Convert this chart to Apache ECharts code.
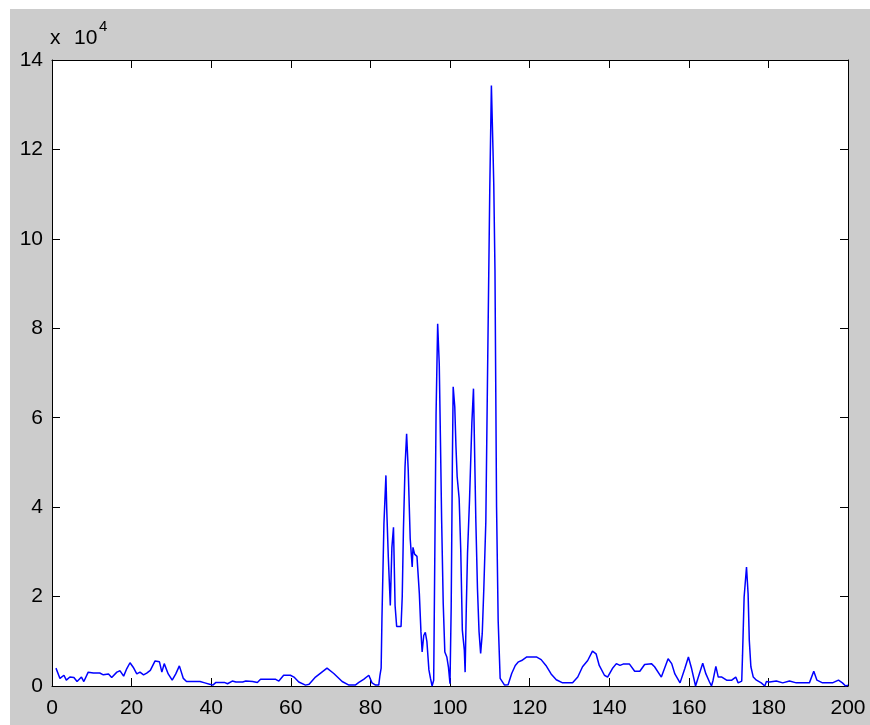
<!DOCTYPE html>
<html>
<head>
<meta charset="utf-8">
<script src="https://cdn.jsdelivr.net/npm/echarts@6/dist/echarts.min.js"></script>
<style>
    html, body { margin: 0; padding: 0; background: #fff; }
    #main { position: absolute; left: 10px; top: 9px; width: 860px; height: 716px; }
</style>
</head>
<body>
<div id="main"></div>
<script>
    // x positions of the samples
    var xs = [
        1, 2, 3, 3.6, 4.5, 5.5, 6.3, 7.4, 8, 9.1, 10.4, 12, 12.9, 14.2, 15, 16.3, 17.1, 18, 18.8, 19.6,
        20.4, 21.3, 22.1, 23, 23.8, 24.7, 25.9, 27, 27.6, 28.2, 29.2, 30.2, 31.1, 32, 33, 33.8, 34.7, 37.2, 38.4, 39.6,
        40.4, 41.2, 43.3, 44.1, 45.3, 46.2, 47.9, 48.7, 50.4, 51.6, 52.4, 56.2, 57, 58.2, 59.9, 60.8, 62, 63.7, 64.6, 66.2,
        69.1, 70.8, 72.9, 74.6, 76.2, 77.1, 78.3, 79.6, 80.4, 81.3, 82.1, 82.4, 82.7, 82.9, 83.4, 83.9, 84.1, 84.5, 85, 85.4,
        85.8, 86.2, 86.6, 87.7, 88, 88.3, 88.7, 89.1, 89.5, 90, 90.5, 90.7, 91.1, 91.7, 92.3, 92.7, 93, 93.4, 93.8, 94.2,
        94.7, 95.1, 95.5, 95.9, 96.1, 96.5, 96.9, 97.3, 97.6, 97.9, 98.3, 98.7, 99.2, 99.6, 100, 100.3, 100.6, 100.8, 101.2, 101.5,
        101.8, 102.3, 102.7, 103.1, 103.6, 103.8, 104.1, 104.4, 104.9, 105.5, 105.9, 106.1, 106.5, 106.9, 107.3, 107.7, 108.1, 108.5, 109, 109.4,
        110, 110.4, 110.8, 111, 111.3, 111.5, 111.7, 112.1, 112.6, 113.7, 114.6, 115.5, 116.4, 117.2, 118, 119.3, 120.1, 121.7, 122.9, 124.1,
        125.4, 126.7, 128.3, 130.8, 132.1, 133.3, 134.6, 135.8, 136.7, 137.5, 138.8, 139.6, 140.8, 141.8, 142.7, 143.5, 145.1, 146.4, 147.7, 148.9,
        150.6, 151.4, 153.1, 154.8, 155.7, 156.5, 157.8, 159, 159.9, 160.7, 161.7, 162.4, 163.5, 164.3, 165.2, 165.7, 166.1, 166.8, 167.4, 168.3,
        169.5, 170.8, 171.8, 172.4, 173.3, 173.5, 173.9, 174.5, 174.9, 175.2, 175.6, 176.2, 177, 178.2, 179.1, 179.5, 180.3, 182, 183.6, 185.3,
        187, 188.6, 190.3, 191.4, 192.2, 193.6, 196.1, 197.6, 198.6, 199.4, 200
    ];

    // values, in units of 10^4
    var ys = [
        0.40, 0.17, 0.24, 0.13, 0.20, 0.19, 0.10, 0.20, 0.10, 0.31, 0.29, 0.29, 0.25, 0.27, 0.19, 0.31, 0.34, 0.22, 0.39, 0.52,
        0.42, 0.27, 0.31, 0.25, 0.29, 0.35, 0.56, 0.54, 0.31, 0.50, 0.27, 0.13, 0.27, 0.45, 0.17, 0.10, 0.10, 0.10, 0.07, 0.04,
        0.02, 0.08, 0.08, 0.05, 0.11, 0.09, 0.09, 0.11, 0.10, 0.08, 0.15, 0.15, 0.11, 0.24, 0.24, 0.20, 0.09, 0.02, 0.04, 0.20,
        0.40, 0.28, 0.10, 0.02, 0.02, 0.08, 0.15, 0.24, 0.07, 0.02, 0.02, 0.24, 0.40, 1.50, 3.63, 4.71, 3.97, 2.88, 1.80, 3.10,
        3.55, 1.80, 1.33, 1.33, 2.00, 3.50, 4.90, 5.64, 4.84, 3.30, 2.66, 3.10, 2.95, 2.90, 2.06, 1.21, 0.76, 1.13, 1.20, 0.99,
        0.36, 0.17, 0.00, 0.13, 2.10, 6.09, 8.10, 7.20, 5.50, 3.70, 1.84, 0.76, 0.65, 0.43, 0.05, 1.77, 5.05, 6.69, 6.24, 5.35,
        4.68, 4.19, 3.04, 1.25, 0.80, 0.31, 1.77, 2.96, 4.15, 5.90, 6.65, 5.65, 3.67, 2.18, 1.21, 0.73, 1.17, 2.18, 3.67, 6.72,
        11.16, 13.43, 12.00, 11.20, 9.30, 6.61, 4.00, 1.47, 0.17, 0.02, 0.03, 0.28, 0.46, 0.54, 0.57, 0.65, 0.65, 0.65, 0.59, 0.46,
        0.27, 0.14, 0.07, 0.07, 0.20, 0.43, 0.57, 0.78, 0.72, 0.46, 0.24, 0.20, 0.39, 0.50, 0.46, 0.49, 0.49, 0.33, 0.33, 0.48,
        0.50, 0.43, 0.20, 0.61, 0.50, 0.27, 0.07, 0.39, 0.65, 0.39, 0.00, 0.20, 0.51, 0.27, 0.09, 0.00, 0.13, 0.44, 0.20, 0.20,
        0.13, 0.13, 0.20, 0.07, 0.11, 0.69, 1.99, 2.66, 2.06, 1.02, 0.43, 0.20, 0.13, 0.07, 0.00, 0.10, 0.09, 0.11, 0.07, 0.11,
        0.07, 0.07, 0.07, 0.33, 0.13, 0.07, 0.07, 0.13, 0.07, 0.00, 0.02
    ];

    var xTicks = {min: 0, max: 200, interval: 20};
    var yTicks = {min: 0, max: 14, interval: 2};

    var font = '"Liberation Sans", Arial, sans-serif';

    function axis(t, pos, labels, margin) {
        return {
            type: 'value', position: pos,
            min: t.min, max: t.max, interval: t.interval,
            axisLine: {show: true, onZero: false, lineStyle: {color: '#000', width: 1}},
            axisTick: {show: true, inside: true, length: 8, lineStyle: {color: '#000'}},
            axisLabel: {show: labels, color: '#000', fontSize: 21, fontFamily: font, margin: margin},
            splitLine: {show: false}
        };
    }

    var chart = echarts.init(document.getElementById('main'));
    chart.setOption({
        backgroundColor: '#cccccc',
        animation: false,
        grid: {left: 42, top: 51, width: 796, height: 626, show: true, backgroundColor: '#fff', borderWidth: 0},
        xAxis: [axis(xTicks, 'bottom', true, 12), axis(xTicks, 'top', false, 8)],
        yAxis: [axis(yTicks, 'left', true, 9), axis(yTicks, 'right', false, 8)],
        graphic: [
            {type: 'text', left: 40, top: 19, style: {text: 'x', fontSize: 21, fontFamily: font, fill: '#000'}},
            {type: 'text', left: 64, top: 19, style: {text: '10', fontSize: 21, fontFamily: font, fill: '#000'}},
            {type: 'text', left: 89, top: 10, style: {text: '4', fontSize: 15, fontFamily: font, fill: '#000'}}
        ],
        series: [{
            type: 'line',
            xAxisIndex: 0, yAxisIndex: 0,
            showSymbol: false,
            lineStyle: {color: '#0000ff', width: 1.5},
            data: xs.map(function (x, i) {
                return [x, ys[i]];
            })
        }]
    });
</script>
</body>
</html>
